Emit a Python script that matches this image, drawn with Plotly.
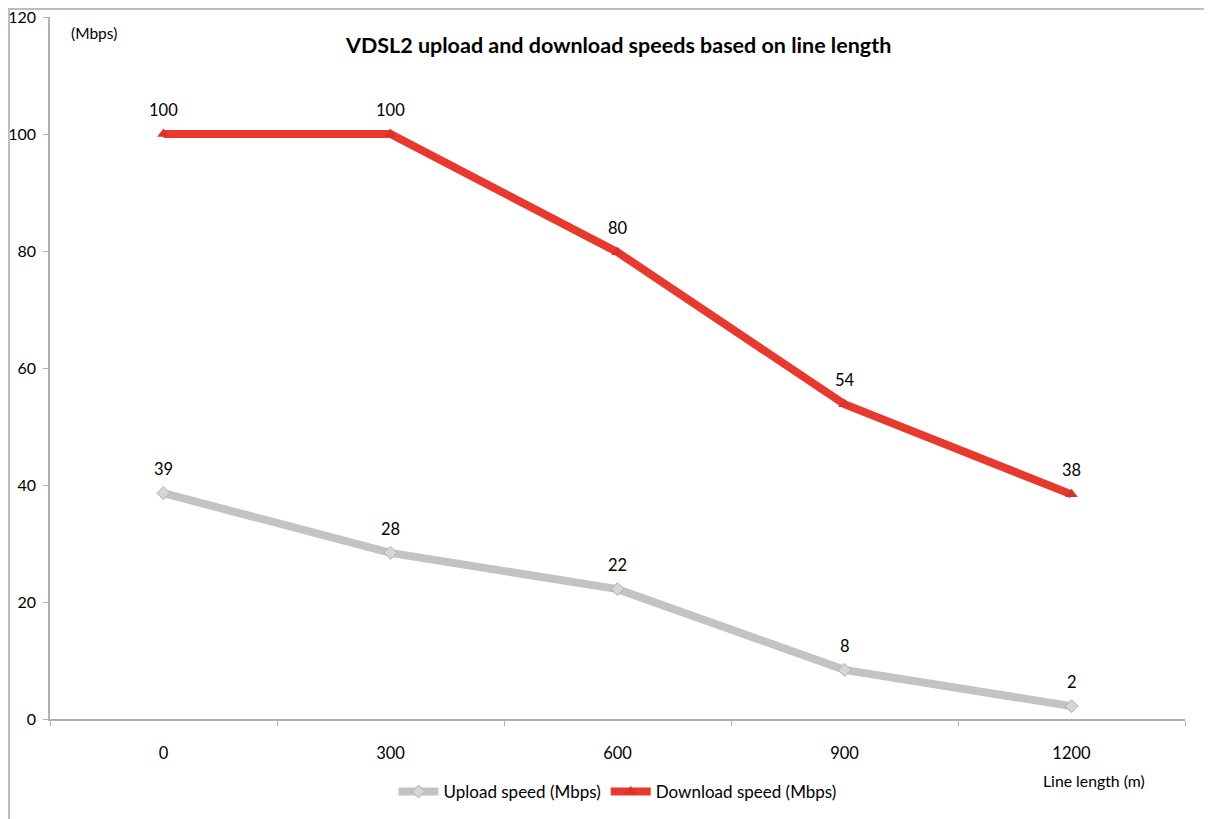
import plotly.graph_objects as go

categories = ["0", "300", "600", "900", "1200"]
upload = [38.6, 28.4, 22.2, 8.4, 2.2]
download = [100, 100, 79.8, 53.8, 38.4]
y_ticks = [0, 20, 40, 60, 80, 100, 120]

FONT = "Lato"
fig = go.Figure()
fig.add_trace(go.Scatter(
    x=categories, y=upload, name="Upload speed (Mbps)", mode="lines+markers",
    line=dict(color="#c3c3c3", width=8),
    marker=dict(symbol="diamond", size=10, color="#d6d6d6", line=dict(color="#b0b0b0", width=1)),
))
fig.add_trace(go.Scatter(
    x=categories, y=download, name="Download speed (Mbps)", mode="lines+markers",
    line=dict(color="#e8392e", width=8),
    marker=dict(symbol="triangle-up", size=11, color="#d8332a"),
))

for series in (upload, download):
    for i, v in enumerate(series):
        fig.add_annotation(x=i, y=v, text=f"{round(v):d}", showarrow=False,
                           xanchor="center", yanchor="middle",
                           yshift=24, font=dict(family=FONT, size=16.5, color="#000"))

fig.add_annotation(xref="paper", yref="paper", x=0.5, y=1.0, yshift=-28,
                   xanchor="center", yanchor="middle",
                   text="<b>VDSL2 upload and download speeds based on line length</b>",
                   showarrow=False, font=dict(family=FONT, size=21.5, color="#000"))
fig.add_annotation(xref="paper", yref="paper", x=0.0167, y=0.977, xanchor="left", yanchor="middle",
                   text="(Mbps)", showarrow=False, font=dict(family=FONT, size=15.5, color="#000"))
fig.add_annotation(xref="paper", yref="paper", x=0.92, y=-0.088, xanchor="center", yanchor="middle",
                   text="Line length (m)", showarrow=False, font=dict(family=FONT, size=15.8, color="#000"))

fig.add_shape(type="rect", xref="paper", yref="paper", x0=-0.0361, x1=1.022, y0=-0.3, y1=1.0114,
              line=dict(color="#bdbdbd", width=2))

fig.update_layout(
    width=1212, height=819,
    margin=dict(l=42, r=35, t=9, b=108, autoexpand=False),
    paper_bgcolor="white", plot_bgcolor="white",
    font=dict(family=FONT, size=16.5, color="#000"),
    showlegend=True,
    legend=dict(orientation="h", x=0.5, xanchor="center", y=-0.104, yanchor="middle",
                font=dict(family=FONT, size=17), itemwidth=40, tracegroupgap=0),
    xaxis=dict(type="category", range=[-0.5, 4.5], tickson="boundaries", ticks="outside",
               ticklen=5, tickcolor="#b0b0b0", showline=True, linecolor="#b0b0b0", linewidth=1.5,
               showgrid=False, zeroline=False, ticklabelstandoff=18, automargin=False),
    yaxis=dict(range=[0, 120], tickvals=y_ticks, ticks="outside", ticklen=5, tickcolor="#b0b0b0",
               showline=True, linecolor="#b0b0b0", linewidth=1.5, showgrid=False, zeroline=False,
               ticklabelstandoff=4, automargin=False, ticklabeloverflow="allow",
               tickfont=dict(size=16)),
)

fig.write_html("out.html")
